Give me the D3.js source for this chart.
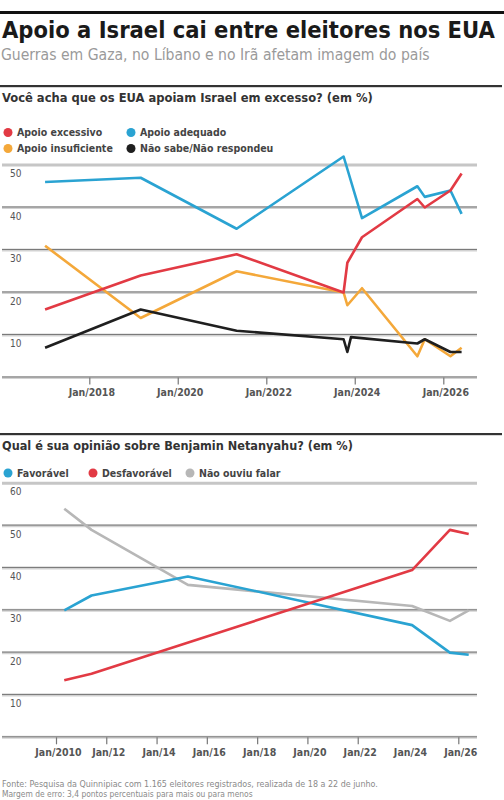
<!DOCTYPE html>
<html lang="pt">
<head>
<meta charset="UTF-8">
<title>Apoio a Israel cai entre eleitores nos EUA</title>
<script src="https://cdn.jsdelivr.net/npm/d3@7"></script>
<style>
  body { margin: 0; background: #fff; }
  svg { display: block; }
  text { font-family: "Liberation Sans Narrow", "DejaVu Sans Condensed", Roboto, sans-serif; }
</style>
</head>
<body>
<script>
// ---- data: chart 1 (Você acha que os EUA apoiam Israel em excesso?)
const dates1 = ["2017-01", "2019-03", "2021-05", "2023-10", "2023-11", "2023-12", "2024-03", "2025-06", "2025-08", "2026-03", "2026-06"];
const excessivo = [16, 24, 29, 20, 27, null, 33, 42, 40, 44, 48];
const adequado = [46, 47, 35, 52, null, null, 37.5, 45, 42.5, 44, 38.5];
const insuficiente = [31, 14, 25, 20, 17, null, 21, 5, 9, 5, 7];
const naoSabe = [7, 16, 11, 9, 6, 9.5, null, 8, 9, 6, 6];
const ticks1 = ["2018-01", "2020-01", "2022-01", "2024-01", "2026-01"];
const tickLabels1 = ["Jan/2018", "Jan/2020", "Jan/2022", "Jan/2024", "Jan/2026"];
const yTicks1 = [0, 10, 20, 30, 40, 50];

// ---- data: chart 2 (Qual é sua opinião sobre Benjamin Netanyahu?)
const dates2 = ["2010-05", "2011-06", "2015-04", "2024-03", "2025-09", "2026-06"];
const favoravel = [30, 33.5, 38, 26.5, 20, 19.5];
const desfavoravel = [13.5, 15, null, 39.5, 49, 48];
const naoOuviu = [54, 49, 36, 31, 27.5, 30];
const ticks2 = ["2010-01", "2012-01", "2014-01", "2016-01", "2018-01", "2020-01", "2022-01", "2024-01", "2026-01"];
const tickLabels2 = ["Jan/2010", "Jan/12", "Jan/14", "Jan/16", "Jan/18", "Jan/20", "Jan/22", "Jan/24", "Jan/26"];
const yTicks2 = [0, 10, 20, 30, 40, 50, 60];

const parse = d3.timeParse("%Y-%m");
const W = 504, H = 800;

const svg = d3.select("body").append("svg")
    .attr("width", W)
    .attr("height", H);

// shrink/grow font so a text fills a given width
function fit(sel, width) {
    const len = sel.node().getComputedTextLength();
    const fs = parseFloat(sel.attr("font-size"));
    sel.attr("font-size", (fs * width / len).toFixed(2));
    return sel;
}

// header
svg.append("rect").attr("x", 0).attr("y", 11).attr("width", W).attr("height", 3).attr("fill", "#111");
fit(svg.append("text")
    .attr("x", 2).attr("y", 38)
    .attr("font-size", 26)
    .attr("font-weight", 900)
    .style("font-family", "'DejaVu Sans Condensed', 'DejaVu Sans', sans-serif")
    .attr("fill", "#1a1a1a")
    .text("Apoio a Israel cai entre eleitores nos EUA"), 493);
fit(svg.append("text")
    .attr("x", 1).attr("y", 60)
    .attr("font-size", 16)
    .attr("fill", "#9a9a9a")
    .text("Guerras em Gaza, no Líbano e no Irã afetam imagem do país"), 429);

// generic block: rule, question, legend, grid, axis, lines
function drawChart(opt) {
    const g = svg.append("g");
    g.append("rect").attr("x", 0).attr("y", opt.ruleY).attr("width", 502).attr("height", 2.2).attr("fill", "#333");
    fit(g.append("text")
        .attr("x", 2).attr("y", opt.ruleY + 17)
        .attr("font-size", 12.5)
        .attr("font-weight", "bold")
        .attr("fill", "#333")
        .text(opt.question), opt.questionW);

    // legend
    opt.legend.forEach(l => {
        g.append("circle").attr("cx", l.x).attr("cy", l.y).attr("r", 4.5).attr("fill", l.color);
        g.append("text")
            .attr("x", l.x + 9).attr("y", l.y + 3.5)
            .attr("font-size", 10.5)
            .attr("font-weight", "bold")
            .attr("fill", "#444")
            .text(l.label);
    });

    const x = d3.scaleTime().domain(opt.xDomain.map(parse)).range(opt.xRange);
    const y = d3.scaleLinear().domain([0, opt.yTicks[opt.yTicks.length - 1]]).range(opt.yRange);

    // gridlines + labels below them
    opt.yTicks.forEach((t, i) => {
        const yy = y(t);
        const top = i === opt.yTicks.length - 1;
        g.append("line").attr("x1", 2).attr("x2", 477).attr("y1", yy).attr("y2", yy)
            .attr("stroke", top ? "#c6c6c6" : "#d2d2d2").attr("stroke-width", 3);
        if (!top) {
            g.append("line").attr("x1", 2).attr("x2", 477).attr("y1", yy - 0.5).attr("y2", yy - 0.5)
                .attr("stroke", "#7a7a7a").attr("stroke-width", 1);
        }
        if (t > 0) {
            g.append("text").attr("x", 10).attr("y", yy + 12)
                .attr("font-size", 10).attr("fill", "#555")
                .text(t);
        }
    });

    // x axis
    const axis = d3.axisBottom(x)
        .tickValues(opt.ticks.map(parse))
        .tickSize(7)
        .tickPadding(4)
        .tickFormat((d, i) => opt.tickLabels[i]);
    const ax = g.append("g")
        .attr("transform", `translate(0,${opt.yRange[0]})`)
        .call(axis);
    ax.select(".domain").remove();
    ax.selectAll(".tick line").attr("stroke", "#777").attr("stroke-width", 1.2)
        .attr("opacity", (d, i) => opt.hideTick && opt.hideTick.includes(i) ? 0 : 1);
    ax.selectAll(".tick text")
        .attr("font-size", 10.5)
        .attr("font-weight", "bold")
        .attr("fill", "#555")
        .attr("dx", 2)
        .style("font-family", "'Liberation Sans Narrow', 'DejaVu Sans Condensed', Roboto, sans-serif");

    // lines
    opt.series.forEach(s => {
        const pts = opt.dates.map((d, i) => ({ d: parse(d), v: s.values[i] })).filter(p => p.v != null);
        g.append("path")
            .datum(pts)
            .attr("fill", "none")
            .attr("stroke", s.color)
            .attr("stroke-width", 2.6)
            .attr("stroke-linejoin", "round")
            .attr("d", d3.line().x(p => x(p.d)).y(p => y(p.v)));
    });
}

const RED = "#e23a44", BLUE = "#2aa3d2", ORANGE = "#f4a83a", BLACK = "#1f1f1f", GRAY = "#b7b7b7";

drawChart({
    ruleY: 85,
    question: "Você acha que os EUA apoiam Israel em excesso? (em %)",
    questionW: 371,
    legend: [
        { x: 8, y: 132.5, color: RED, label: "Apoio excessivo" },
        { x: 131, y: 132.5, color: BLUE, label: "Apoio adequado" },
        { x: 8, y: 148.5, color: ORANGE, label: "Apoio insuficiente" },
        { x: 131, y: 148.5, color: BLACK, label: "Não sabe/Não respondeu" }
    ],
    xDomain: ["2018-01", "2026-01"],
    xRange: [89.3, 443.3],
    yTicks: yTicks1,
    yRange: [377.5, 165],
    ticks: ticks1,
    tickLabels: tickLabels1,
    dates: dates1,
    series: [
        { values: adequado, color: BLUE },
        { values: insuficiente, color: ORANGE },
        { values: excessivo, color: RED },
        { values: naoSabe, color: BLACK }
    ]
});

drawChart({
    ruleY: 433,
    question: "Qual é sua opinião sobre Benjamin Netanyahu? (em %)",
    questionW: 351,
    legend: [
        { x: 8, y: 473, color: BLUE, label: "Favorável" },
        { x: 93, y: 473, color: RED, label: "Desfavorável" },
        { x: 190, y: 473, color: GRAY, label: "Não ouviu falar" }
    ],
    xDomain: ["2010-01", "2026-01"],
    xRange: [56, 458.3],
    yTicks: yTicks2,
    yRange: [737.3, 483.3],
    ticks: ticks2,
    tickLabels: tickLabels2,
    hideTick: [7],
    dates: dates2,
    series: [
        { values: naoOuviu, color: GRAY },
        { values: favoravel, color: BLUE },
        { values: desfavoravel, color: RED }
    ]
});

// source note
fit(svg.append("text")
    .attr("x", 2).attr("y", 787)
    .attr("font-size", 9)
    .attr("fill", "#8a8a8a")
    .text("Fonte: Pesquisa da Quinnipiac com 1.165 eleitores registrados, realizada de 18 a 22 de junho."), 377);
svg.append("text")
    .attr("x", 2).attr("y", 797)
    .attr("font-size", 8.4)
    .attr("fill", "#8a8a8a")
    .text("Margem de erro: 3,4 pontos percentuais para mais ou para menos");
</script>
</body>
</html>
